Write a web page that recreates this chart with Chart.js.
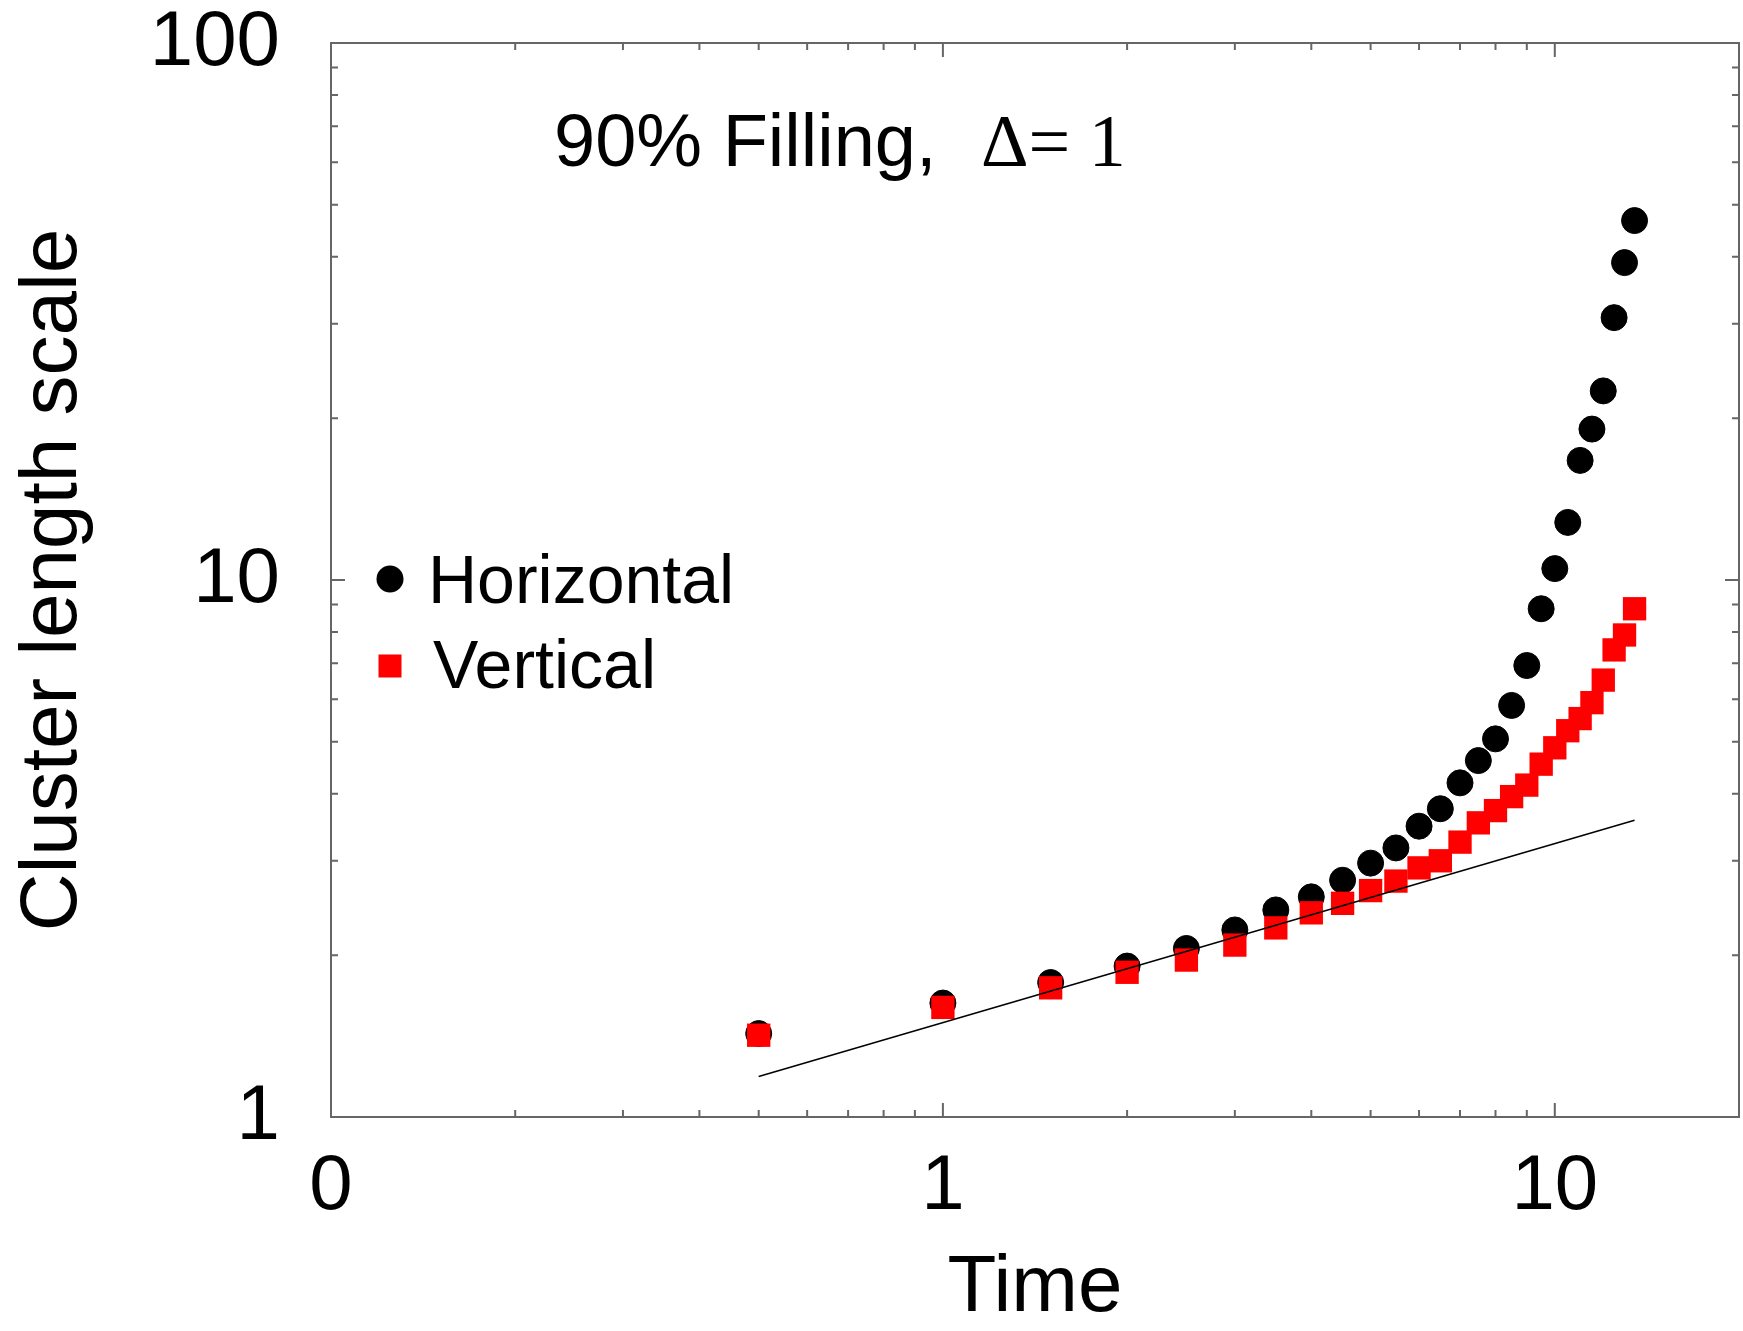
<!DOCTYPE html>
<html>
<head>
<meta charset="utf-8">
<title>Cluster length scale vs time</title>
<script src="https://cdn.jsdelivr.net/npm/chart.js@4.4.1/dist/chart.umd.min.js"></script>
<style>
  html, body { margin: 0; padding: 0; background: #fff; }
  #wrap { width: 1743px; height: 1331px; }
</style>
</head>
<body>
<div id="wrap"><canvas id="clusterChart" width="1743" height="1331"></canvas></div>
<script>
// data
const timeValues = [0.5, 1, 1.5, 2, 2.5, 3, 3.5, 4, 4.5, 5, 5.5, 6, 6.5, 7, 7.5, 8, 8.5, 9, 9.5, 10, 10.5, 11, 11.5, 12, 12.5, 13, 13.5];
const horizontalValues = [1.43, 1.63, 1.78, 1.91, 2.06, 2.23, 2.43, 2.57, 2.76, 2.97, 3.17, 3.48, 3.75, 4.19, 4.61, 5.06, 5.84, 6.93, 8.84, 10.5, 12.8, 16.7, 19.1, 22.5, 30.8, 39.0, 46.7];
const verticalValues = [1.42, 1.60, 1.74, 1.86, 1.96, 2.09, 2.25, 2.40, 2.50, 2.64, 2.75, 2.91, 3.00, 3.25, 3.53, 3.72, 3.95, 4.15, 4.54, 4.87, 5.24, 5.52, 5.91, 6.51, 7.41, 7.90, 8.84];
const fitTime = [0.5, 13.5];
const fitValues = [1.19, 3.57];

// axis ticks
const xTickValues = [0.1, 0.2, 0.3, 0.4, 0.5, 0.6, 0.7, 0.8, 0.9, 1, 2, 3, 4, 5, 6, 7, 8, 9, 10, 20];
const xMajorValues = [0.1, 1, 10];
const xTickLabels = ['0', '1', '10'];
const yTickValues = [1, 2, 3, 4, 5, 6, 7, 8, 9, 10, 20, 30, 40, 50, 60, 70, 80, 90, 100];
const yMajorValues = [1, 10, 100];
const yTickLabels = ['1', '10', '100'];

const SANS = '"Liberation Sans", Arial, Helvetica, sans-serif';
const SERIF = '"Liberation Serif", "Times New Roman", serif';

const toPoints = (xs, ys) => xs.map((x, i) => ({ x: x, y: ys[i] }));

// inward ticks on all four sides plus the frame
const frameTicks = {
  id: 'frameTicks',
  afterDatasetsDraw(chart) {
    const { ctx, chartArea: a, scales } = chart;
    ctx.save();
    ctx.strokeStyle = '#666';
    ctx.lineWidth = 2;
    ctx.beginPath();
    scales.x.ticks.forEach(t => {
      const px = scales.x.getPixelForValue(t.value);
      const len = xMajorValues.includes(t.value) ? 14 : 7;
      ctx.moveTo(px, a.bottom); ctx.lineTo(px, a.bottom - len);
      ctx.moveTo(px, a.top); ctx.lineTo(px, a.top + len);
    });
    scales.y.ticks.forEach(t => {
      const py = scales.y.getPixelForValue(t.value);
      const len = yMajorValues.includes(t.value) ? 14 : 7;
      ctx.moveTo(a.left, py); ctx.lineTo(a.left + len, py);
      ctx.moveTo(a.right, py); ctx.lineTo(a.right - len, py);
    });
    ctx.stroke();
    ctx.strokeRect(a.left, a.top, a.right - a.left, a.bottom - a.top);
    ctx.restore();
  }
};

// in-plot legend and annotation
const plotText = {
  id: 'plotText',
  afterDraw(chart) {
    const ctx = chart.ctx;
    const sets = chart.data.datasets;
    ctx.save();
    ctx.fillStyle = '#000';
    ctx.textBaseline = 'alphabetic';
    ctx.textAlign = 'left';

    ctx.font = '74px ' + SANS;
    ctx.fillText('90% Filling,', 554, 166);
    ctx.font = '74px ' + SERIF;
    ctx.fillText('\u0394= 1', 981, 166);

    // legend
    ctx.fillStyle = sets[0].backgroundColor;
    ctx.beginPath();
    ctx.arc(390, 579, 13.5, 0, Math.PI * 2);
    ctx.fill();
    ctx.fillStyle = sets[1].backgroundColor;
    ctx.fillRect(378.5, 654.5, 23, 23);

    ctx.fillStyle = '#000';
    ctx.font = '68px ' + SANS;
    ctx.fillText(sets[0].label, 428, 603);
    ctx.fillText(sets[1].label, 433, 688);
    ctx.restore();
  }
};

const ctx = document.getElementById('clusterChart').getContext('2d');
new Chart(ctx, {
  type: 'scatter',
  data: {
    datasets: [
      {
        label: 'Horizontal',
        data: toPoints(timeValues, horizontalValues),
        pointStyle: 'circle',
        pointRadius: 13,
        backgroundColor: '#000000',
        borderColor: '#000000',
        borderWidth: 1,
        order: 2
      },
      {
        label: 'Vertical',
        data: toPoints(timeValues, verticalValues),
        pointStyle: 'rect',
        pointRadius: 16.5,
        backgroundColor: '#ff0000',
        borderColor: '#ff0000',
        borderWidth: 0,
        order: 1
      },
      {
        label: 'fit',
        data: toPoints(fitTime, fitValues),
        showLine: true,
        pointRadius: 0,
        borderColor: '#000000',
        borderWidth: 1.5,
        order: 0
      }
    ]
  },
  options: {
    responsive: false,
    animation: false,
    layout: { autoPadding: false, padding: { top: 43, right: 4, bottom: 0, left: 0 } },
    plugins: {
      legend: { display: false },
      tooltip: { enabled: false }
    },
    scales: {
      x: {
        type: 'logarithmic',
        position: 'bottom',
        min: 0.1,
        max: 20,
        afterBuildTicks: s => { s.ticks = xTickValues.map(v => ({ value: v })); },
        afterFit: s => { s.height = 214; s.paddingLeft = 0; s.paddingRight = 0; },
        grid: { display: false, drawTicks: false },
        border: { display: false },
        ticks: {
          autoSkip: false,
          maxRotation: 0,
          padding: 31,
          color: '#000',
          font: { family: SANS, size: 78, lineHeight: 1 },
          callback: v => {
            const i = xMajorValues.indexOf(v);
            return i >= 0 ? xTickLabels[i] : '';
          }
        },
        title: {
          display: true,
          text: 'Time',
          color: '#000',
          font: { family: SANS, size: 80, lineHeight: 1 },
          padding: { top: 0, bottom: 2 }
        }
      },
      y: {
        type: 'logarithmic',
        position: 'left',
        min: 1,
        max: 100,
        afterBuildTicks: s => { s.ticks = yTickValues.map(v => ({ value: v })); },
        afterFit: s => { s.width = 331; s.paddingTop = 0; s.paddingBottom = 0; },
        grid: { display: false, drawTicks: false },
        border: { display: false },
        ticks: {
          autoSkip: false,
          padding: 51,
          color: '#000',
          font: { family: SANS, size: 78, lineHeight: 1 },
          callback: v => {
            const i = yMajorValues.indexOf(v);
            return i >= 0 ? yTickLabels[i] : '';
          }
        },
        title: {
          display: true,
          text: 'Cluster length scale',
          color: '#000',
          font: { family: SANS, size: 80, lineHeight: 1 },
          padding: { top: 14, bottom: 0 }
        }
      }
    }
  },
  plugins: [frameTicks, plotText]
});
</script>
</body>
</html>
